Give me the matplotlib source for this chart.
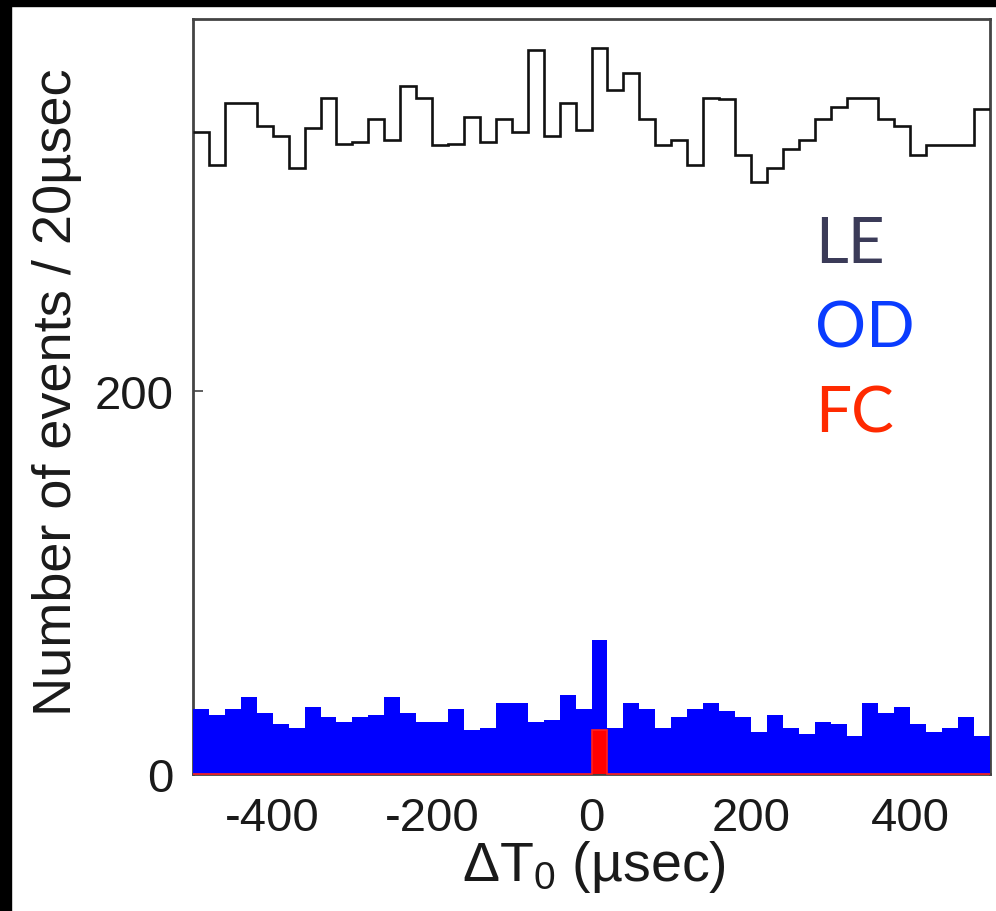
import numpy as np
import matplotlib
matplotlib.use("Agg")
import matplotlib.pyplot as plt
from matplotlib.patches import Rectangle

# ---- data (counts per 20 usec bin, -500..500 usec) ----
bin_edges = list(range(-500, 520, 20))
le_counts = [335, 318, 350, 350, 338, 333, 316, 337, 353, 329,
             330, 342, 331, 359, 353, 328, 329, 343, 330, 342,
             335, 378, 333, 350, 336, 379, 357, 366, 342, 328,
             331, 318, 353, 352, 323, 309, 316, 326, 331, 342,
             348, 353, 353, 342, 338, 323, 328, 328, 328, 347]
od_counts = [34, 31, 34, 40, 32, 26, 24, 35, 30, 27,
             30, 31, 40, 32, 27, 27, 34, 23, 24, 37,
             37, 27, 28, 41, 34, 70, 24, 37, 34, 24,
             30, 34, 37, 33, 30, 22, 31, 24, 21, 27,
             26, 20, 37, 32, 35, 26, 22, 24, 30, 20]
fc_counts = [0] * 25 + [23] + [0] * 24
x_ticks = [-400, -200, 0, 200, 400]
y_ticks = [0, 200]
labels = ["LE", "OD", "FC"]
label_colors = ["#3b3b58", "#0a3cff", "#ff2a00"]

plt.rcParams['mathtext.fontset'] = 'custom'
plt.rcParams['mathtext.rm'] = 'Liberation Sans'
plt.rcParams['mathtext.it'] = 'Liberation Sans:italic'
plt.rcParams['axes.unicode_minus'] = False

fig = plt.figure(figsize=(9.96, 9.12), dpi=100, facecolor='white')
# black border strips of the screenshot (top and left)
fig.patches.append(Rectangle((0, 1 - 7 / 912), 1, 7 / 912, transform=fig.transFigure,
                             color='black', zorder=0))
fig.patches.append(Rectangle((0, 0), 11 / 996, 1, transform=fig.transFigure,
                             color='black', zorder=0))

ax = fig.add_axes([193 / 996, 1 - 775 / 912, (990 - 193) / 996, (775 - 20) / 912])

edges = np.array(bin_edges)
ax.stairs(od_counts, edges, fill=True, color='#0000ff', zorder=3)
ax.stairs(fc_counts, edges, fill=True, color='#ff0000', zorder=3.1)
ax.stairs(fc_counts, edges, color='#ff2020', lw=1.2, zorder=3.2, clip_on=False)
ax.stairs(le_counts, edges, baseline=None, color='#111111', lw=1.9, zorder=3)

ax.set_xlim(-500, 500)
ax.set_ylim(0, 394)
ax.set_xticks(x_ticks)
ax.set_yticks(y_ticks)
ax.tick_params(direction='in', length=7, width=1.2, color='#444444',
               labelsize=34, labelcolor='#1a1a1a')
ax.tick_params(axis='x', pad=16)
ax.tick_params(axis='y', pad=14)
for lab in ax.get_xticklabels() + ax.get_yticklabels():
    lab.set_family('Liberation Sans')

for s in ax.spines.values():
    s.set_color('#444444')
    s.set_linewidth(2.0)

ax.set_ylabel('Number of events / 20µsec', fontsize=39, family='Liberation Sans',
              color='#1a1a1a')
ax.yaxis.set_label_coords(-0.139, 0.507)
ax.set_xlabel(r'Δ$\mathrm{T}_0$ (µsec)', fontsize=40, family='Liberation Sans',
              color='#1a1a1a')
ax.xaxis.set_label_coords(0.503, -0.085)

for lab, col, yb in zip(labels, label_colors, [0.678, 0.5656, 0.453]):
    ax.text(0.780, yb, lab, transform=ax.transAxes, fontsize=46, family='Lato',
            color=col, va='baseline', ha='left', zorder=5)

fig.savefig('out.png', dpi=100, facecolor='white')
